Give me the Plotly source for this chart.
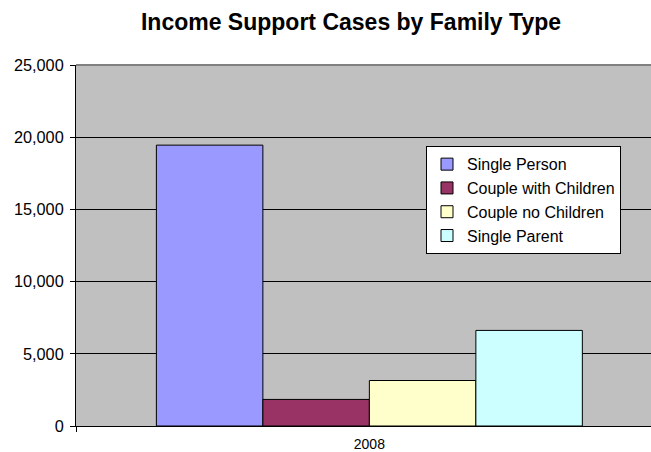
import plotly.graph_objects as go

categories = ["2008"]
series_names = ["Single Person", "Couple with Children", "Couple no Children", "Single Parent"]
single_person = [19450]
couple_with_children = [1840]
couple_no_children = [3150]
single_parent = [6620]
y_ticks = [0, 5000, 10000, 15000, 20000, 25000]

series_values = [single_person, couple_with_children, couple_no_children, single_parent]
colors = ["#9999FF", "#993366", "#FFFFCC", "#CCFFFF"]

FONT = "Arial, 'Liberation Sans', sans-serif"

W, H = 651, 452

fig = go.Figure()
for name, vals, col in zip(series_names, series_values, colors):
    fig.add_trace(go.Bar(
        x=categories, y=vals, name=name,
        marker=dict(color=col, line=dict(color="#000000", width=1)),
    ))

fig.update_layout(
    width=W, height=H,
    margin=dict(l=76, r=0, t=65, b=26),
    paper_bgcolor="white",
    plot_bgcolor="#C0C0C0",
    barmode="group",
    bargap=0.274,
    bargroupgap=0,
    font=dict(family=FONT, color="black"),
    title=dict(
        text="<b>Income Support Cases by Family Type</b>",
        font=dict(family=FONT, size=23, color="black"),
        x=351 / W, xanchor="center", xref="container",
        y=1 - 22 / H, yanchor="middle", yref="container",
    ),
    showlegend=True,
    legend=dict(
        x=0.6087, xref="paper", xanchor="left",
        y=0.775, yref="paper", yanchor="top",
        bgcolor="white", bordercolor="black", borderwidth=1,
        font=dict(family=FONT, size=16, color="black"),
        itemwidth=30,
        tracegroupgap=0,
    ),
    xaxis=dict(
        range=[-0.5, 0.48],
        showline=True, linecolor="black", linewidth=1,
        ticks="outside", tickson="boundaries", ticklen=5, tickcolor="black",
        ticklabelstandoff=5,
        tickfont=dict(family=FONT, size=14, color="black"),
        showgrid=False, zeroline=False, fixedrange=True,
    ),
    yaxis=dict(
        range=[0, 25000],
        tickvals=y_ticks,
        tickformat=",",
        showline=True, linecolor="black", linewidth=1,
        ticks="outside", ticklen=5, tickcolor="black",
        ticklabelstandoff=3,
        tickfont=dict(family=FONT, size=16.3, color="black"),
        showgrid=True, gridcolor="black", gridwidth=1,
        zeroline=False, fixedrange=True,
    ),
    shapes=[dict(type="line", xref="paper", yref="paper", x0=0, x1=1, y0=1, y1=1,
                 line=dict(color="#808080", width=2), layer="above")],
)

fig.write_html(
    "out.html",
    config={"displayModeBar": False},
    post_script="document.body.style.margin='0';document.body.style.overflow='hidden';",
)
